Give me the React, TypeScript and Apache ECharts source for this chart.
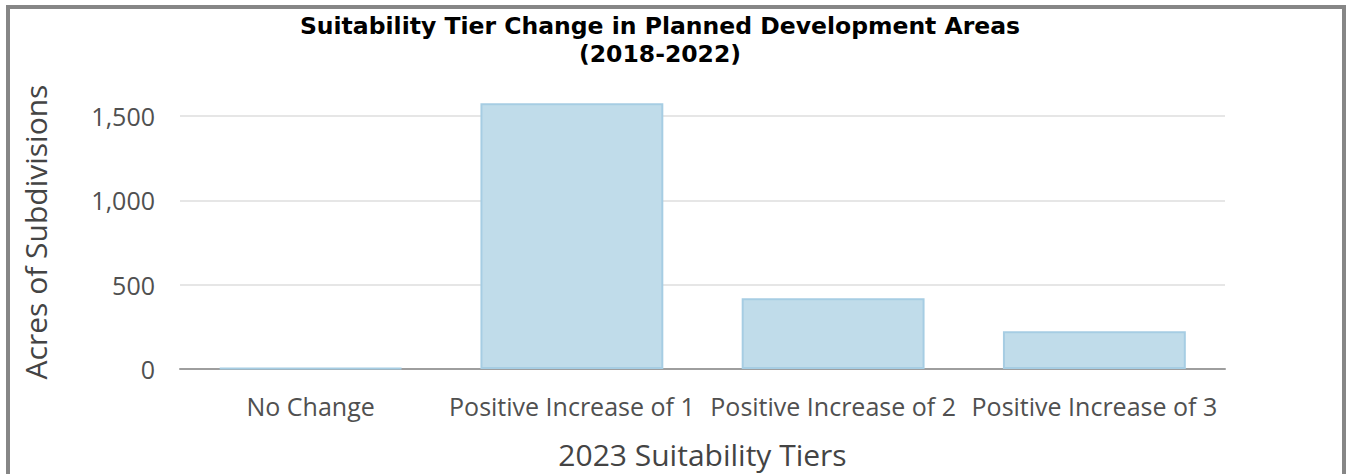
import React, { useEffect, useRef } from "react";
import * as echarts from "echarts";

const categories = ["No Change", "Positive Increase of 1", "Positive Increase of 2", "Positive Increase of 3"];
const acres = [6, 1575, 419, 224];
const titleLines = ["Suitability Tier Change in Planned Development Areas", "(2018-2022)"];
const xAxisTitle = "2023 Suitability Tiers";
const yAxisTitle = "Acres of Subdivisions";

export default function App() {
  const ref = useRef<HTMLDivElement>(null);
  useEffect(() => {
    if (!ref.current) return;
    const chart = echarts.init(ref.current, undefined, { renderer: "svg" });
    chart.setOption({
      animation: false,
      title: {
        text: titleLines.join("\n"),
        left: 655,
        textAlign: "center",
        top: 7,
        textStyle: {
          fontFamily: "DejaVu Sans",
          fontWeight: "bold",
          fontSize: 23.5,
          lineHeight: 28,
          color: "#000",
        },
      },
      grid: { left: 180, right: 121, top: 116, bottom: 104 },
      xAxis: {
        type: "category",
        data: categories,
        name: xAxisTitle,
        nameLocation: "middle",
        nameGap: 70,
        nameTextStyle: { fontFamily: "Open Sans", fontSize: 30, color: "#444" },
        axisLine: { lineStyle: { color: "#9e9e9e", width: 2 } },
        axisTick: { alignWithLabel: true, length: 7, lineStyle: { color: "#aaa", width: 2 } },
        axisLabel: { fontFamily: "Open Sans", fontSize: 25, color: "#505050", margin: 24, interval: 0 },
      },
      yAxis: {
        type: "value",
        min: 0,
        max: 1500,
        interval: 500,
        axisLine: { show: false },
        axisTick: { show: false },
        axisLabel: {
          fontFamily: "Open Sans",
          fontSize: 25,
          color: "#505050",
          margin: 25,
          formatter: (v: number) => v.toLocaleString("en-US"),
        },
        splitLine: { lineStyle: { color: "#e6e6e6", width: 2 } },
      },
      graphic: [
        {
          type: "text",
          x: 35,
          y: 232,
          rotation: Math.PI / 2,
          style: {
            text: yAxisTitle,
            fontFamily: "Open Sans",
            fontSize: 30,
            fill: "#444",
            align: "center",
            verticalAlign: "middle",
          },
        },
      ],
      series: [
        {
          type: "bar",
          data: acres,
          barWidth: "70%",
          clip: false,
          itemStyle: { color: "#c0dcea", borderColor: "#a6cde3", borderWidth: 2 },
        },
      ],
    });
    return () => chart.dispose();
  }, []);
  return (
    <div style={{ position: "fixed", left: 0, top: 0, width: 1346, height: 474, background: "#fff", overflow: "hidden" }}>
      <div
        style={{
          position: "absolute",
          left: 6,
          top: 5,
          width: 1340,
          height: 480,
          border: "4px solid #868686",
          boxSizing: "border-box",
        }}
      />
      <div ref={ref} style={{ position: "absolute", left: 0, top: 0, width: 1346, height: 474 }} />
    </div>
  );
}
